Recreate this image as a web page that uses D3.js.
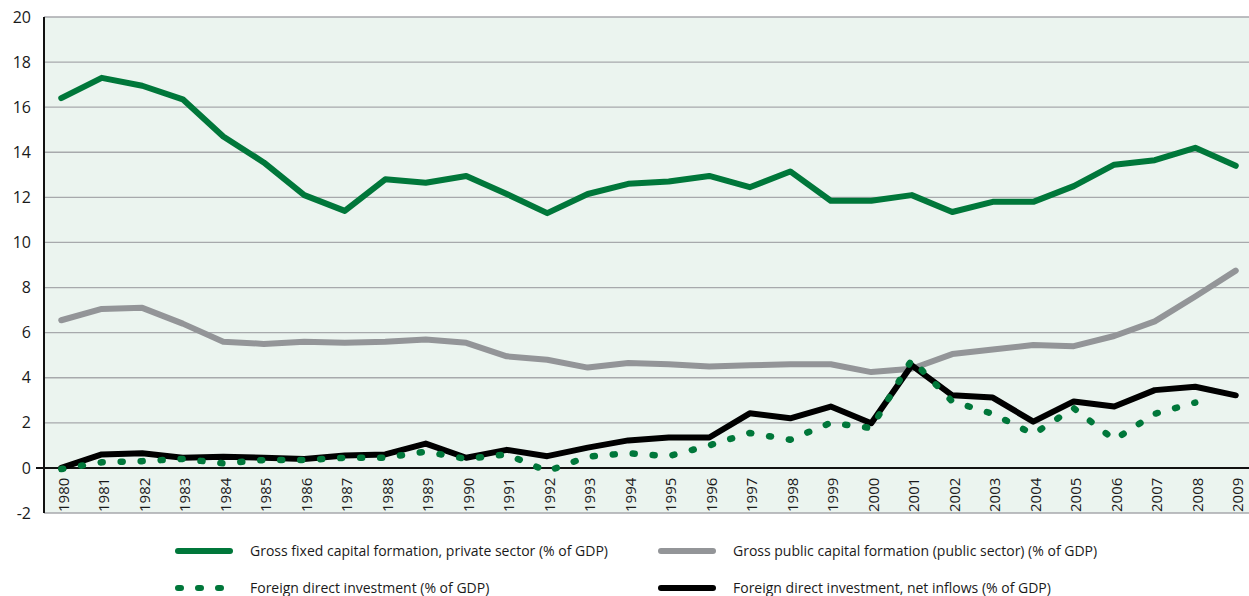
<!DOCTYPE html>
<html>
<head>
<meta charset="utf-8">
<script src="https://cdn.jsdelivr.net/npm/d3@7"></script>
<style>
  body { margin: 0; background: #fff; }
  svg text { font-family: "Open Sans", "Noto Sans", sans-serif; fill: #1a1a1a; }
</style>
</head>
<body>
<svg id="chart" width="1249" height="596"></svg>
<script>
// Data
const years = d3.range(1980, 2010).map(String);
const privateGFCF = [16.4, 17.3, 16.95, 16.35, 14.7, 13.55, 12.1, 11.4, 12.8, 12.65,
  12.95, 12.15, 11.3, 12.15, 12.6, 12.7, 12.95, 12.45, 13.15, 11.85,
  11.85, 12.1, 11.35, 11.8, 11.8, 12.5, 13.45, 13.65, 14.2, 13.4];
const publicGFCF = [6.55, 7.05, 7.1, 6.4, 5.6, 5.5, 5.6, 5.55, 5.6, 5.7,
  5.55, 4.95, 4.8, 4.45, 4.65, 4.6, 4.5, 4.55, 4.6, 4.6,
  4.25, 4.4, 5.05, 5.25, 5.45, 5.4, 5.85, 6.5, 7.6, 8.75];
const fdiPct = [-0.05, 0.25, 0.3, 0.4, 0.2, 0.35, 0.35, 0.45, 0.45, 0.72,
  0.4, 0.6, -0.15, 0.5, 0.65, 0.52, 1.0, 1.55, 1.25, 2.0,
  1.77, 4.8, 2.95, 2.4, 1.5, 2.65, 1.25, 2.4, 2.9, null];
const fdiNet = [0.0, 0.6, 0.65, 0.45, 0.5, 0.45, 0.4, 0.55, 0.6, 1.08,
  0.45, 0.8, 0.52, 0.9, 1.22, 1.35, 1.35, 2.42, 2.2, 2.72,
  1.98, 4.55, 3.22, 3.12, 2.05, 2.95, 2.72, 3.45, 3.6, 3.22];
const yTicks = d3.range(-2, 21, 2);

const series = [
  { name: "Gross fixed capital formation, private sector (% of GDP)", values: privateGFCF, color: "#00773a", dash: null },
  { name: "Gross public capital formation (public sector) (% of GDP)", values: publicGFCF, color: "#939598", dash: null },
  { name: "Foreign direct investment (% of GDP)", values: fdiPct, color: "#00773a", dash: "2 18" },
  { name: "Foreign direct investment, net inflows (% of GDP)", values: fdiNet, color: "#000000", dash: null }
];

const svg = d3.select("#chart");
const plot = { left: 44, right: 1249, top: 17, bottom: 513 };

const x = d3.scaleBand()
    .domain(years)
    .range([41, 1256]);
const y = d3.scaleLinear()
    .domain([-2, 20])
    .range([plot.bottom, plot.top]);

// plot background
svg.append("rect")
    .attr("x", plot.left)
    .attr("y", plot.top)
    .attr("width", plot.right - plot.left)
    .attr("height", plot.bottom - plot.top)
    .attr("fill", "#ebf4ef");

// gridlines
svg.append("g")
    .selectAll("line")
    .data(yTicks.filter(d => d !== 0))
    .enter().append("line")
    .attr("x1", plot.left)
    .attr("x2", plot.right)
    .attr("y1", d => y(d))
    .attr("y2", d => y(d))
    .attr("stroke", "#a7a9ac")
    .attr("stroke-width", 1.3);

// y tick labels
svg.append("g")
    .selectAll("text")
    .data(yTicks)
    .enter().append("text")
    .attr("x", 31)
    .attr("y", d => y(d))
    .attr("dy", "0.35em")
    .attr("text-anchor", "end")
    .style("font-size", "16px")
    .text(d => d);

// x tick labels (rotated)
svg.append("g")
    .selectAll("text")
    .data(years)
    .enter().append("text")
    .attr("transform", d => `translate(${x(d) + x.bandwidth() / 2 + 2},${plot.bottom - 1}) rotate(-90)`)
    .attr("dy", "0.35em")
    .attr("text-anchor", "start")
    .style("font-size", "15px")
    .text(d => d);

// zero line and left axis
svg.append("line")
    .attr("x1", 36).attr("x2", plot.right)
    .attr("y1", y(0)).attr("y2", y(0))
    .attr("stroke", "#111").attr("stroke-width", 2);
svg.append("line")
    .attr("x1", plot.left).attr("x2", plot.left)
    .attr("y1", plot.top).attr("y2", plot.bottom)
    .attr("stroke", "#111").attr("stroke-width", 2);

// lines
const line = d3.line()
    .defined(d => d.v !== null)
    .x(d => x(d.year) + x.bandwidth() / 2)
    .y(d => y(d.v));

// draw order: public, private, fdi net, fdi pct on top
[series[1], series[0], series[3], series[2]].forEach(s => {
  svg.append("path")
      .datum(years.map((yr, i) => ({ year: yr, v: s.values[i] })))
      .attr("d", line)
      .attr("fill", "none")
      .attr("stroke", s.color)
      .attr("stroke-width", s.dash ? 6.5 : 6)
      .attr("stroke-linejoin", "round")
      .attr("stroke-linecap", "round")
      .attr("stroke-dasharray", s.dash);
});

// legend
const legendPos = [
  { x: 175, y: 551 }, { x: 658, y: 551 },
  { x: 175, y: 588 }, { x: 658, y: 588 }
];
const legend = svg.append("g");
const items = legend.selectAll("g")
    .data(series)
    .enter().append("g")
    .attr("transform", (d, i) => `translate(${legendPos[i].x},${legendPos[i].y})`);
items.append("line")
    .attr("x1", 3).attr("x2", 55)
    .attr("y1", 0).attr("y2", 0)
    .attr("stroke", d => d.color)
    .attr("stroke-width", 6)
    .attr("stroke-linecap", "round")
    .attr("stroke-dasharray", d => d.dash ? "3 17" : null);
items.append("text")
    .attr("x", 75)
    .attr("y", 0)
    .attr("dy", "0.35em")
    .style("font-size", "14px")
    .text(d => d.name);
</script>
</body>
</html>
